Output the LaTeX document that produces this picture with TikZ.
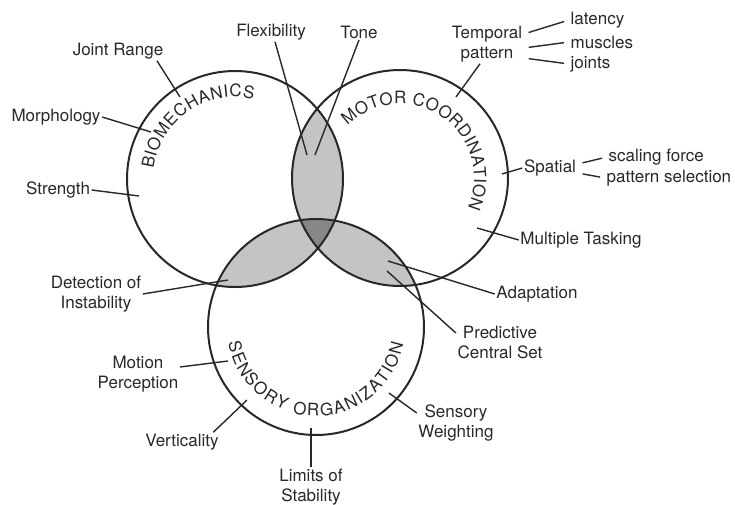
\documentclass[tikz,border=0pt]{standalone}
\usepackage{fontspec}
\setmainfont{TeX Gyre Heros}
\usepackage{tikz}
\usetikzlibrary{calc,decorations.text}
\definecolor{ink}{RGB}{40,40,40}
\definecolor{lensgray}{RGB}{196,196,196}
\definecolor{coregray}{RGB}{135,135,135}

\begin{document}
\begin{tikzpicture}[x=1pt,y=1pt,
  ring/.style={draw=ink,line width=2pt},
  lbl/.style={font=\fontsize{17}{20}\selectfont,text=ink,inner sep=1.5pt,align=center},
  lead/.style={draw=ink,line width=1.4pt},
  sub/.style={lead,shorten <=5pt,shorten >=5pt},
  arctext/.style={decorate,decoration={text along path,text align=fit to path,text color=ink,text={|\fontsize{17}{17}\selectfont|#1}}}]
\useasboundingbox (0,0) rectangle (735,-504);
\coordinate (bio) at (235,-179);
\coordinate (mot) at (400,-178);
\coordinate (sen) at (316,-327);
% shaded overlaps, darker core last
\begin{scope}
  \clip (bio) circle[radius=108];
  \fill[lensgray] (mot) circle[radius=108];
  \fill[lensgray] (sen) circle[radius=108];
\end{scope}
\begin{scope}
  \clip (mot) circle[radius=108];
  \fill[lensgray] (sen) circle[radius=108];
\end{scope}
\begin{scope}
  \clip (bio) circle[radius=108];
  \clip (mot) circle[radius=108];
  \fill[coregray] (sen) circle[radius=108];
\end{scope}
\foreach \c in {bio,mot,sen} {
  \draw[ring] (\c) circle[radius=108];
}
% circle titles
\path[arctext=BIOMECHANICS] ($(bio)+(173:82)$) arc[start angle=173,end angle=77,radius=82];
\path[arctext=MOTOR COORDINATION] ($(mot)+(135:74)$) arc[start angle=135,end angle=-24,radius=74];
\path[arctext=SENSORY ORGANIZATION] ($(sen)+(190:89)$) arc[start angle=190,end angle=349,radius=89];
% inner ends of the leaders
\coordinate (jr) at (180,-97);
\coordinate (mo) at (151,-132);
\coordinate (st) at (139,-196);
\coordinate (fl) at (307,-155);
\coordinate (to) at (315,-155);
\coordinate (tp) at (456,-97);
\coordinate (sp) at (502,-174);
\coordinate (mt) at (477,-228);
\coordinate (ad) at (388,-261);
\coordinate (pc) at (387,-271);
\coordinate (sw) at (389,-393);
\coordinate (ls) at (311,-428);
\coordinate (ve) at (247,-400);
\coordinate (mp) at (228,-361);
\coordinate (di) at (228,-280);
% labels
\node[lbl] (joint) at (118,-51) {Joint Range};
\node[lbl] (morph) at (56,-117) {Morphology};
\node[lbl] (strength) at (58,-190) {Strength};
\node[lbl] (flex) at (271,-32) {Flexibility};
\node[lbl] (tone) at (359,-32) {Tone};
\node[lbl] (temporal) at (487,-44) {Temporal\\pattern};
\node[lbl,anchor=west] (latency) at (569,-20) {latency};
\node[lbl,anchor=west] (muscles) at (569,-42) {muscles};
\node[lbl,anchor=west] (joints) at (569,-64) {joints};
\node[lbl] (spatial) at (550,-168) {Spatial};
\node[lbl,anchor=west] (scaling) at (607,-157) {scaling force};
\node[lbl,anchor=west] (selection) at (605,-178) {pattern selection};
\node[lbl] (tasking) at (581,-240) {Multiple Tasking};
\node[lbl] (adapt) at (537,-294) {Adaptation};
\node[lbl] (predict) at (500,-342) {Predictive\\Central Set};
\node[lbl] (weight) at (456,-423) {Sensory\\Weighting};
\node[lbl] (limits) at (311,-487) {Limits of\\Stability};
\node[lbl] (vert) at (182,-442) {Verticality};
\node[lbl] (motion) at (138,-374) {Motion\\Perception};
\node[lbl] (detect) at (96,-294) {Detection of\\Instability};
% leaders
\draw[lead] ([xshift=-8pt]joint.south east) -- (jr);
\draw[lead] (morph.east) -- (mo);
\draw[lead] (strength.east) -- (st);
\draw[lead] ([xshift=4pt]flex.south) -- (fl);
\draw[lead] (tone.south) -- (to);
\draw[lead] ([xshift=-7pt]temporal.south) -- (tp);
\draw[sub] ([yshift=10pt]temporal.east) -- (latency.west);
\draw[sub] ([yshift=-4pt]temporal.east) -- (muscles.west);
\draw[sub] ([yshift=-14pt]temporal.east) -- (joints.west);
\draw[lead] (spatial.west) -- (sp);
\draw[sub] ([yshift=4pt]spatial.east) -- (scaling.west);
\draw[sub] ([yshift=-5pt]spatial.east) -- (selection.west);
\draw[lead] (tasking.west) -- (mt);
\draw[lead] (adapt.west) -- (ad);
\draw[lead] ([yshift=9pt]predict.west) -- (pc);
\draw[lead] ([yshift=10pt]weight.west) -- (sw);
\draw[lead] (limits.north) -- (ls);
\draw[lead] ([xshift=-7pt]vert.north east) -- (ve);
\draw[lead] ([yshift=7pt]motion.east) -- (mp);
\draw[lead] (detect.east) -- (di);
\end{tikzpicture}
\end{document}
